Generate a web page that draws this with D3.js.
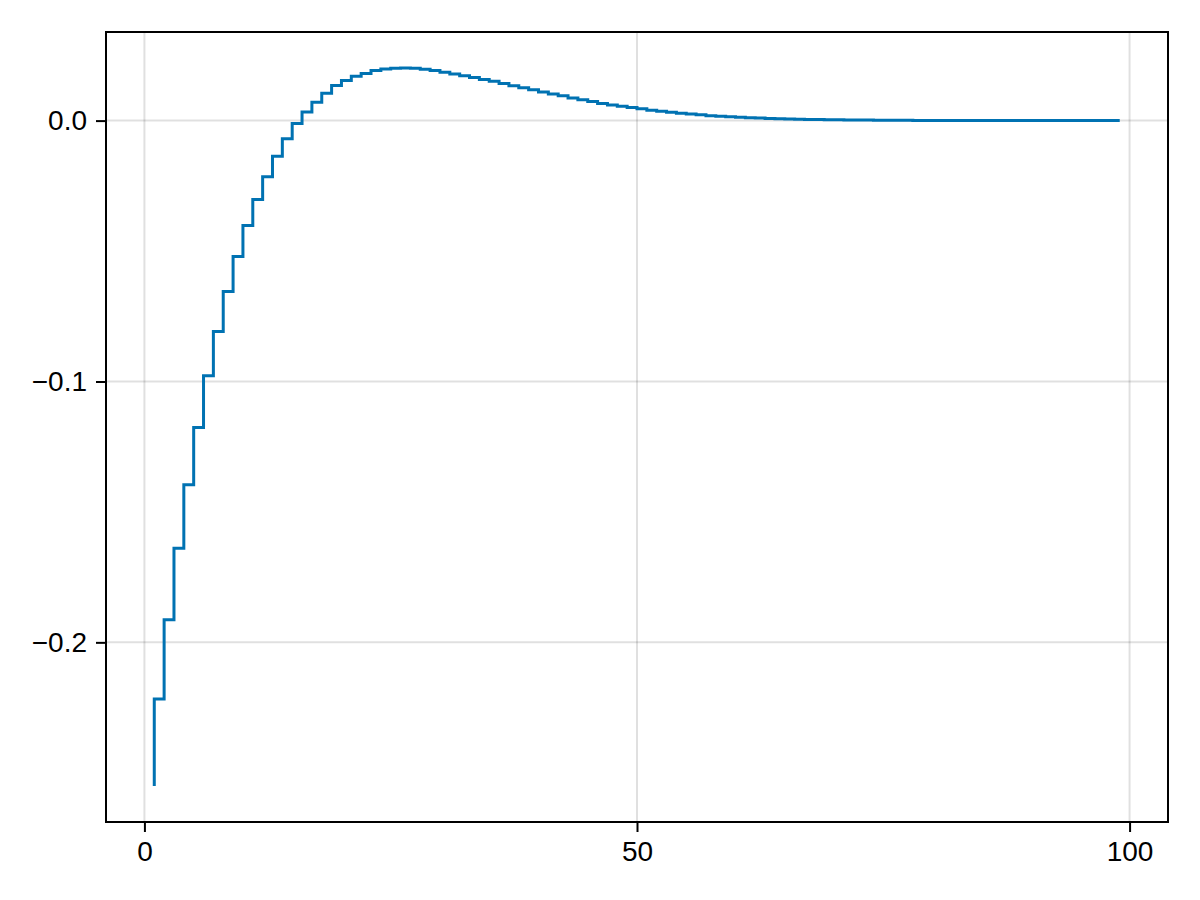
<!DOCTYPE html>
<html>
<head>
<meta charset="utf-8">
<script src="https://cdn.jsdelivr.net/npm/d3@7"></script>
<style>
  html, body { margin: 0; padding: 0; background: #fff; }
  svg { display: block; }
  text { font-family: "Liberation Sans", Arial, Helvetica, sans-serif; fill: #000; }
</style>
</head>
<body>
<script>
// step values, x = 1..99
const stepX = d3.range(1, 100);
const stepY = [
  -0.2551, -0.2217, -0.1913, -0.1639, -0.1396, -0.1176, -0.0978, -0.0808, -0.0655, -0.0521,
  -0.0402, -0.0302, -0.0215, -0.0137, -0.0070, -0.0011, 0.0033, 0.0070, 0.0105, 0.0135,
  0.0154, 0.0170, 0.0181, 0.0192, 0.0198, 0.0201, 0.0202, 0.0201, 0.0197, 0.0192,
  0.0185, 0.0179, 0.0172, 0.0165, 0.0158, 0.0151, 0.0142, 0.0134, 0.0126, 0.0118,
  0.0110, 0.0102, 0.0095, 0.0087, 0.0080, 0.0073, 0.0066, 0.0060, 0.0055, 0.0050,
  0.0045, 0.0040, 0.0036, 0.0032, 0.0028, 0.0025, 0.0022, 0.0019, 0.0017, 0.0015,
  0.0013, 0.0011, 0.0010, 0.0008, 0.0007, 0.0006, 0.0005, 0.0004, 0.0004, 0.0003,
  0.0003, 0.0002, 0.0002, 0.0002, 0.0001, 0.0001, 0.0001, 0.0001, 0.0000, 0.0000,
  0.0000, 0.0000, 0.0000, 0.0000, 0.0000, 0.0000, 0.0000, 0.0000, 0.0000, 0.0000,
  0.0000, 0.0000, 0.0000, 0.0000, 0.0000, 0.0000, 0.0000, 0.0000, 0.0000
];

const xTicks = [0, 50, 100];
const xTickLabels = ["0", "50", "100"];
const yTicks = [0, -0.1, -0.2];
const yTickLabels = ["0.0", "\u22120.1", "\u22120.2"];

const w = 1200, h = 900;
const box = { left: 106, right: 1168, top: 32, bottom: 822 };

// Makie-like 5% padding around the data
const pad = (lo, hi) => [lo - 0.05 * (hi - lo), hi + 0.05 * (hi - lo)];
const xExt = d3.extent(stepX), yExt = d3.extent(stepY);

const x = d3.scaleLinear().domain(pad(xExt[0], xExt[1])).range([box.left, box.right]);
const y = d3.scaleLinear().domain(pad(yExt[0], yExt[1])).range([box.bottom, box.top]);

const svg = d3.select("body").append("svg")
  .attr("width", w)
  .attr("height", h)
  .attr("viewBox", `0 0 ${w} ${h}`);

// grid
const grid = svg.append("g").attr("stroke", "rgba(0,0,0,0.12)").attr("stroke-width", 2);
grid.selectAll(".gx").data(xTicks).enter().append("line")
  .attr("x1", d => x(d)).attr("x2", d => x(d))
  .attr("y1", box.top).attr("y2", box.bottom);
grid.selectAll(".gy").data(yTicks).enter().append("line")
  .attr("x1", box.left).attr("x2", box.right)
  .attr("y1", d => y(d)).attr("y2", d => y(d));

// stairs (step :pre)
const line = d3.line()
  .x((d, i) => x(stepX[i]))
  .y(d => y(d))
  .curve(d3.curveStepBefore);

svg.append("path")
  .datum(stepY)
  .attr("d", line)
  .attr("fill", "none")
  .attr("stroke", "#0072b2")
  .attr("stroke-width", 3)
  .attr("stroke-linejoin", "miter");

// axes
const xAxis = d3.axisBottom(x).tickValues(xTicks)
  .tickFormat((d, i) => xTickLabels[i]).tickSize(10).tickSizeOuter(0).tickPadding(9);
const yAxis = d3.axisLeft(y).tickValues(yTicks)
  .tickFormat((d, i) => yTickLabels[i]).tickSize(10).tickSizeOuter(0).tickPadding(9);

const gx = svg.append("g").attr("transform", `translate(0,${box.bottom})`).call(xAxis);
const gy = svg.append("g").attr("transform", `translate(${box.left},0)`).call(yAxis);

[gx, gy].forEach(g => {
  g.select(".domain").remove();
  g.selectAll(".tick line").attr("stroke", "#000").attr("stroke-width", 2);
  g.selectAll(".tick text").attr("font-size", 28).attr("fill", "#000")
    .style("font-family", '"Liberation Sans", Arial, sans-serif');
});

// frame
svg.append("rect")
  .attr("x", box.left).attr("y", box.top)
  .attr("width", box.right - box.left).attr("height", box.bottom - box.top)
  .attr("fill", "none").attr("stroke", "#000").attr("stroke-width", 2);
</script>
</body>
</html>
